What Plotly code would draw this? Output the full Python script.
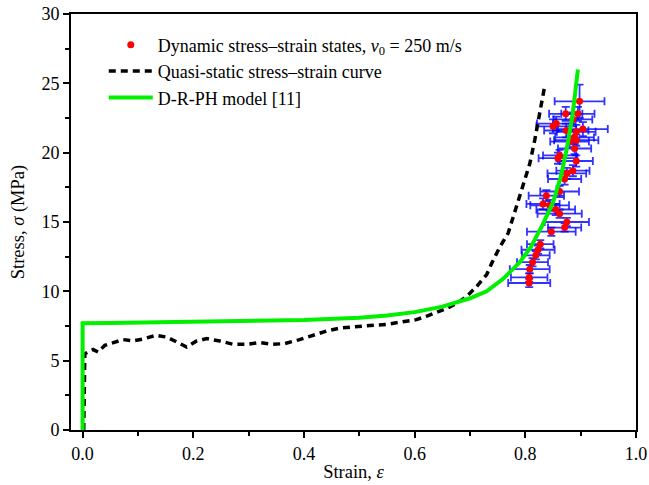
import plotly.graph_objects as go

# Dynamic stress-strain states (red dots with blue error bars)
dyn_strain = [0.807, 0.807, 0.808, 0.813, 0.819, 0.823, 0.827, 0.847, 0.871, 0.875,
              0.862, 0.832, 0.844, 0.855, 0.838, 0.862, 0.871, 0.875, 0.886, 0.859,
              0.862, 0.892, 0.880, 0.889, 0.892, 0.874, 0.889, 0.850, 0.856, 0.873,
              0.886, 0.895, 0.904, 0.898, 0.892]
dyn_stress = [10.6, 11.0, 11.6, 12.1, 12.6, 13.0, 13.4, 14.3, 14.6, 15.0,
              15.6, 16.3, 16.2, 15.9, 16.9, 17.2, 18.1, 18.5, 18.7, 19.6,
              19.8, 19.4, 20.8, 20.3, 20.9, 21.6, 21.1, 21.9, 22.1, 22.8,
              22.4, 22.8, 21.7, 23.7, 21.5]
dyn_strain_err = [0.038, 0.033, 0.036, 0.028, 0.025, 0.030, 0.024, 0.044, 0.030, 0.040,
                  0.040, 0.030, 0.035, 0.035, 0.032, 0.035, 0.030, 0.035, 0.030, 0.035,
                  0.030, 0.030, 0.035, 0.030, 0.040, 0.040, 0.035, 0.030, 0.035, 0.030,
                  0.035, 0.030, 0.045, 0.045, 0.035]
dyn_stress_err = [0.3, 0.3, 0.3, 0.3, 0.3, 0.3, 0.3, 0.3, 0.3, 0.3,
                  0.3, 0.4, 0.4, 0.4, 0.4, 0.4, 0.4, 0.4, 0.4, 0.4,
                  0.4, 0.4, 0.4, 0.4, 0.4, 0.5, 0.5, 0.5, 0.5, 0.5,
                  0.5, 0.5, 0.5, 1.2, 0.5]

# Quasi-static stress-strain curve
qs_strain = [0.002, 0.004, 0.019, 0.028, 0.040, 0.055, 0.073, 0.091, 0.109, 0.133,
             0.152, 0.170, 0.188, 0.206, 0.224, 0.248, 0.272, 0.296, 0.320, 0.344,
             0.365, 0.392, 0.416, 0.441, 0.465, 0.495, 0.519, 0.549, 0.579, 0.603,
             0.621, 0.639, 0.657, 0.675, 0.693, 0.711, 0.730, 0.739, 0.754, 0.769,
             0.784, 0.796, 0.808, 0.817, 0.826, 0.835]
qs_stress = [0.0, 5.5, 5.8, 5.62, 6.1, 6.27, 6.52, 6.42, 6.56, 6.83,
             6.7, 6.35, 5.98, 6.42, 6.59, 6.42, 6.18, 6.18, 6.3, 6.18,
             6.23, 6.52, 6.83, 7.14, 7.35, 7.48, 7.53, 7.62, 7.79, 7.96,
             8.2, 8.49, 8.75, 9.11, 9.59, 10.3, 11.2, 12.0, 13.2, 14.2,
             16.1, 17.5, 19.2, 20.9, 22.8, 24.8]

# D-R-PH model [11]
model_strain = [0.0, 0.0, 0.05, 0.1, 0.2, 0.3, 0.4, 0.5, 0.55, 0.6, 0.65, 0.7,
                0.73, 0.76, 0.79, 0.81, 0.83, 0.85, 0.865, 0.875, 0.885, 0.895]
model_stress = [0.0, 7.7, 7.72, 7.74, 7.78, 7.83, 7.93, 8.1, 8.25, 8.5, 8.9, 9.5,
                10.0, 10.9, 12.1, 13.2, 14.7, 16.4, 18.4, 20.3, 22.6, 26.0]

x_ticks = [0.0, 0.2, 0.4, 0.6, 0.8, 1.0]
x_tick_labels = ["0.0", "0.2", "0.4", "0.6", "0.8", "1.0"]
y_ticks = [0, 5, 10, 15, 20, 25, 30]

FONT = "Liberation Serif"

fig = go.Figure()
fig.add_trace(go.Scatter(
    x=dyn_strain, y=dyn_stress, mode="markers",
    name="Dynamic stress\u2013strain states, <i>v</i><sub>0</sub> = 250 m/s",
    marker=dict(color="red", size=7, line=dict(width=0)),
    error_x=dict(type="data", array=dyn_strain_err, color="rgba(0,0,255,0.8)",
                 thickness=1.8, width=4),
    error_y=dict(type="data", array=dyn_stress_err, color="rgba(0,0,255,0.8)",
                 thickness=1.8, width=4),
))
fig.add_trace(go.Scatter(
    x=qs_strain, y=qs_stress, mode="lines",
    name="Quasi-static stress\u2013strain curve",
    line=dict(color="black", width=3.5, dash="7px,5px"),
))
fig.add_trace(go.Scatter(
    x=model_strain, y=model_stress, mode="lines",
    name="D-R-PH model [11]",
    line=dict(color="#00f000", width=4),
))

axis_common = dict(
    showline=True, linecolor="black", linewidth=2, mirror=True,
    ticks="outside", ticklen=6, tickwidth=2, tickcolor="black",
    showgrid=False, zeroline=False, automargin=False,
    tickfont=dict(family=FONT, size=18, color="black"),
)
fig.update_xaxes(
    range=[-0.021, 1.0], tickvals=x_ticks, ticktext=x_tick_labels,
    minor=dict(dtick=0.1, tick0=0, ticks="outside", ticklen=4, tickwidth=2,
               tickcolor="black", showgrid=False),
    title=dict(text="Strain, <i>\u03b5</i>", font=dict(family=FONT, size=18.5, color="black"),
               standoff=2),
    **axis_common,
)
fig.update_yaxes(
    range=[0, 30], tickvals=y_ticks,
    minor=dict(dtick=2.5, tick0=0, ticks="outside", ticklen=4, tickwidth=2,
               tickcolor="black", showgrid=False),
    title=dict(text="Stress, <i>\u03c3</i> (MPa)", font=dict(family=FONT, size=18.5, color="black"),
               standoff=12),
    **axis_common,
)
fig.update_layout(
    width=649, height=485,
    margin=dict(l=71, r=13, t=14, b=55),
    paper_bgcolor="white", plot_bgcolor="white",
    font=dict(family=FONT, size=18, color="black"),
    showlegend=True,
    legend=dict(x=0.058, y=0.97, xanchor="left", yanchor="top",
                bgcolor="rgba(0,0,0,0)", font=dict(family=FONT, size=18, color="black"),
                itemwidth=44, tracegroupgap=0),
)
# remove the default page margin so the figure sits at the window's top-left corner
fig.write_html("out.html", config={"displayModeBar": False},
               post_script="document.body.style.margin='0';")
